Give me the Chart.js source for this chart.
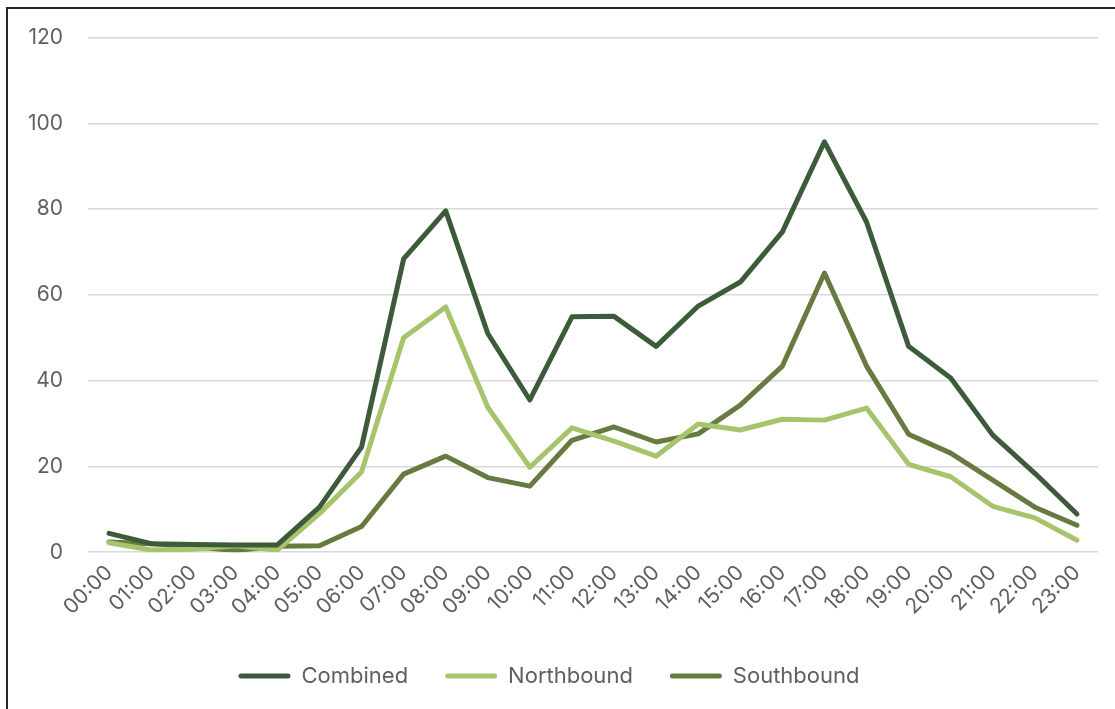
<!DOCTYPE html>
<html>
<head>
<meta charset="utf-8">
<script src="https://cdn.jsdelivr.net/npm/chart.js@4"></script>
<style>
  html, body { margin: 0; padding: 0; background: #fff; overflow: hidden; }
  #frame { position: absolute; left: 6px; top: 7px; width: 1130px; height: 720px; border: 2px solid #262626; box-sizing: border-box; }
  #wrap { position: absolute; left: 0; top: 0; width: 1115px; height: 709px; }
</style>
</head>
<body>
<div id="frame"></div>
<div id="wrap"><canvas id="myChart"></canvas></div>
<script>
// setup
const hours = ['00:00', '01:00', '02:00', '03:00', '04:00', '05:00', '06:00', '07:00', '08:00', '09:00', '10:00', '11:00',
  '12:00', '13:00', '14:00', '15:00', '16:00', '17:00', '18:00', '19:00', '20:00', '21:00', '22:00', '23:00'];
const combined = [4.4, 2.0, 1.8, 1.7, 1.7, 10.5, 24.5, 68.4, 79.6, 51.0, 35.5, 54.9,
  55.0, 48.0, 57.4, 63.0, 74.7, 95.7, 77.0, 48.0, 40.6, 27.3, 18.4, 8.9];
const northbound = [2.2, 0.5, 0.7, 1.5, 0.5, 9.0, 18.7, 50.0, 57.2, 33.8, 19.8, 29.0,
  25.9, 22.4, 29.9, 28.5, 31.0, 30.8, 33.6, 20.5, 17.6, 10.7, 8.0, 2.8];
const southbound = [2.4, 2.0, 1.3, 0.4, 1.4, 1.5, 6.0, 18.2, 22.4, 17.4, 15.4, 26.1,
  29.2, 25.7, 27.6, 34.3, 43.4, 65.1, 43.4, 27.5, 23.1, 16.8, 10.5, 6.3];
const yTicks = [0, 20, 40, 60, 80, 100, 120];

const font = "Inter, 'Open Sans', sans-serif";
const textColor = '#5f5f5f';

const data = {
  labels: hours,
  datasets: [
    { label: 'Combined', data: combined, borderColor: '#3d5a3b', backgroundColor: '#3d5a3b' },
    { label: 'Northbound', data: northbound, borderColor: '#a6c46c', backgroundColor: '#a6c46c' },
    { label: 'Southbound', data: southbound, borderColor: '#677a40', backgroundColor: '#677a40' },
  ]
};

// config
const config = {
  type: 'line',
  data,
  options: {
    responsive: true,
    maintainAspectRatio: false,
    animation: false,
    layout: { padding: { left: 0, right: 17, top: 31, bottom: 12 } },
    elements: {
      line: { borderWidth: 5, tension: 0, borderCapStyle: 'round', borderJoinStyle: 'round' },
      point: { radius: 0 }
    },
    scales: {
      x: {
        offset: true,
        grid: { display: false, drawTicks: false },
        border: { display: false },
        ticks: {
          color: textColor, font: { family: font, size: 21 },
          maxRotation: 45, minRotation: 45, autoSkip: false, padding: 8
        }
      },
      y: {
        min: 0, max: 120,
        afterFit: (scale) => { scale.width = 88; },
        afterBuildTicks: (scale) => { scale.ticks = yTicks.map(v => ({ value: v })); },
        grid: { color: '#d9d9d9', lineWidth: 1.5, drawTicks: false },
        border: { display: false },
        ticks: { color: textColor, font: { family: font, size: 21 }, padding: 25 }
      }
    },
    plugins: {
      legend: {
        position: 'bottom',
        labels: {
          color: textColor, font: { family: font, size: 22 },
          boxWidth: 52, boxHeight: 5, padding: 37,
          generateLabels: (chart) => chart.data.datasets.map((ds, i) => ({
            text: ds.label, fillStyle: ds.borderColor, strokeStyle: ds.borderColor,
            lineWidth: 0, borderRadius: 2.5, fontColor: textColor, datasetIndex: i, hidden: false
          }))
        }
      },
      tooltip: { enabled: false }
    }
  }
};

// render init block
const myChart = new Chart(document.getElementById('myChart'), config);
</script>
</body>
</html>
